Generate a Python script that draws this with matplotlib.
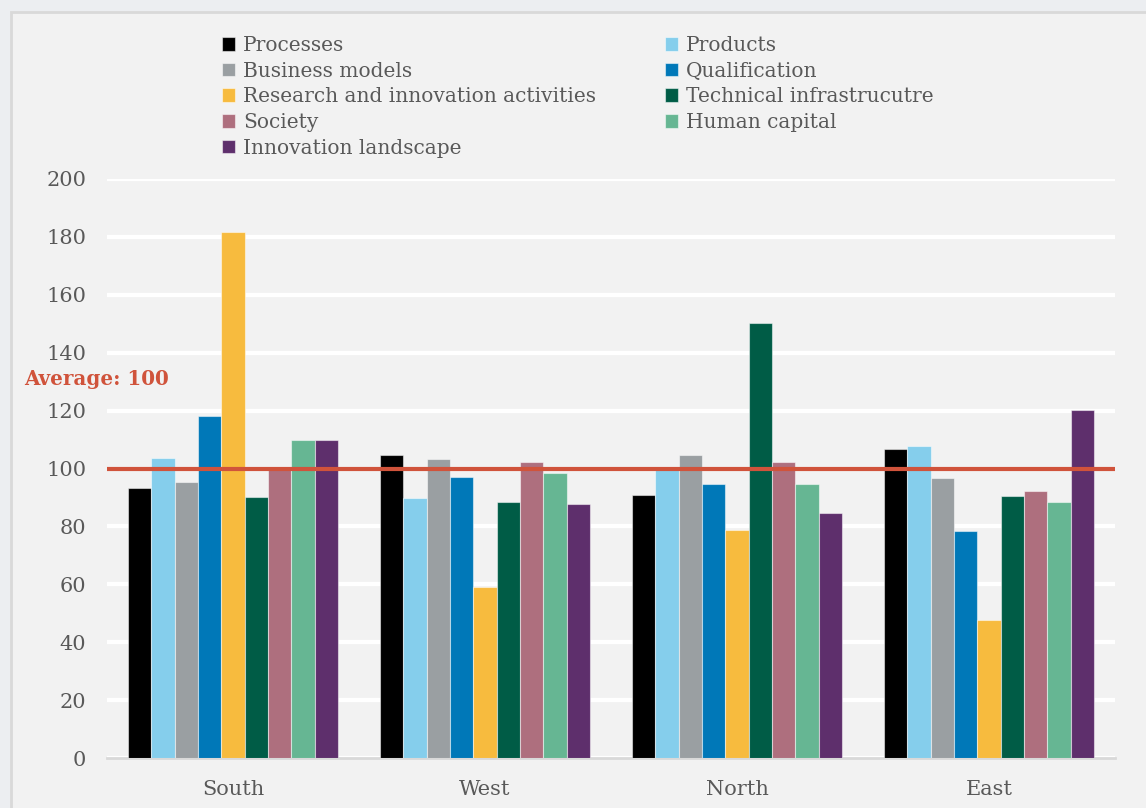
"""Innovation index by region, grouped bar chart with an average line."""

import numpy as np
import matplotlib
matplotlib.use('Agg')  # noqa
import matplotlib.pyplot as plt
from matplotlib.patches import Rectangle

regions = ['South', 'West', 'North', 'East']

indicators = ['Processes', 'Products', 'Business models', 'Qualification',
              'Research and innovation activities', 'Technical infrastrucutre',
              'Society', 'Human capital', 'Innovation landscape']

processes = [93.4, 104.8, 90.9, 106.7]
products = [103.6, 89.7, 99.7, 107.7]
business_models = [95.4, 103.4, 104.6, 96.7]
qualification = [118.2, 96.9, 94.7, 78.5]
research = [181.7, 59.0, 78.7, 47.6]
technical = [90.1, 88.6, 150.1, 90.6]
society = [100.1, 102.4, 102.3, 92.3]
human_capital = [109.7, 98.6, 94.7, 88.3]
landscape = [109.9, 87.9, 84.7, 120.2]

average = 100

colors = ['#000000', '#85ceec', '#9a9fa2', '#0078b8', '#f7bb3e',
          '#005c46', '#ae6f7e', '#66b693', '#5e2f6c']

series = [processes, products, business_models, qualification, research,
          technical, society, human_capital, landscape]

plt.rcParams['font.family'] = ['DejaVu Serif']
text_gray = '#595959'

fig = plt.figure(figsize=(11.46, 8.08), dpi=100)
fig.patch.set_facecolor('#eceef1')
fig.patches.append(Rectangle((11 / 1146, -0.1), 1.2, 1.1 - 12 / 808,
                             transform=fig.transFigure, facecolor='#f2f2f2',
                             edgecolor='#d9d9d9', linewidth=2, zorder=-1))

ax = fig.add_axes([107 / 1146, 1 - 758 / 808, 1008 / 1146, 579 / 808])
ax.set_facecolor('none')

x = np.arange(len(regions))
width = 0.0926
for i, (vals, name, col) in enumerate(zip(series, indicators, colors)):
    offset = (i - (len(series) - 1) / 2) * width
    ax.bar(x + offset, vals, width, color=col, label=name,
           edgecolor='#ffffff80', linewidth=0.8, zorder=3)

ax.axhline(average, color='#d0533b', linewidth=3, zorder=4)
ax.text(-0.082, 131, 'Average: 100', transform=ax.get_yaxis_transform(),
        color='#d0533b', fontsize=14.3, fontweight='bold', ha='left',
        va='center')

ax.set_xlim(-0.5, 3.5)
ax.set_ylim(0, 200)
ax.set_yticks(range(0, 201, 20))
ax.set_xticks(x)
ax.set_xticklabels(regions)
ax.tick_params(axis='both', length=0, labelsize=15, labelcolor=text_gray)
ax.tick_params(axis='x', pad=16)
ax.tick_params(axis='y', pad=15)
ax.grid(axis='y', color='white', linewidth=3, zorder=1)
for side in ['top', 'right', 'left']:
    ax.spines[side].set_visible(False)
ax.spines['bottom'].set_color('#d9d9d9')
ax.spines['bottom'].set_linewidth(2)

# legend reads row by row, so reorder handles for column-major filling
handles, labels = ax.get_legend_handles_labels()
order = [0, 2, 4, 6, 8, 1, 3, 5, 7]
leg = fig.legend([handles[k] for k in order], [labels[k] for k in order],
                 ncol=2, loc='upper left', bbox_to_anchor=(222 / 1146, 1 - 36 / 808),
                 frameon=False, fontsize=14.5, handlelength=0.65, handleheight=0.65,
                 handletextpad=0.4, labelspacing=0.33, columnspacing=3.4,
                 borderaxespad=0, borderpad=0)
for t in leg.get_texts():
    t.set_color(text_gray)

plt.savefig('out.png', dpi=100)
